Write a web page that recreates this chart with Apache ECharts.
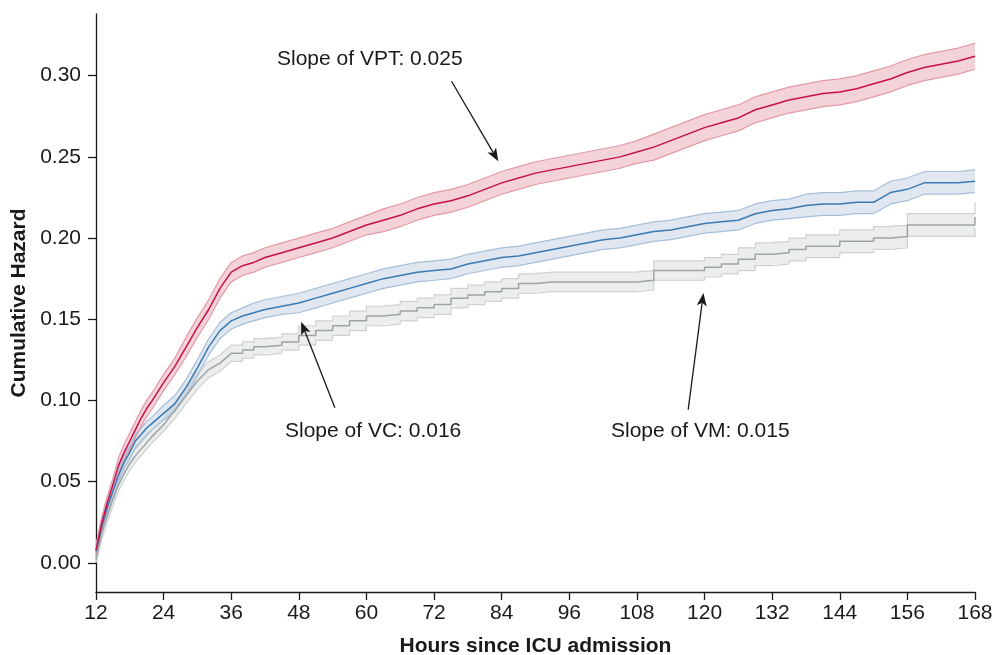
<!DOCTYPE html>
<html>
<head>
<meta charset="utf-8">
<script src="https://cdn.jsdelivr.net/npm/echarts@6/dist/echarts.min.js"></script>
<style>
html,body{margin:0;padding:0;background:#fff;}
#chart{width:996px;height:655px;}
</style>
</head>
<body>
<div id="chart"></div>
<script>
// Hours since ICU admission
var hours = [12,13,14,15,16,17,18,19,20,21,22,24,26,28,30,32,34,36,38,40,42,45,48,51,54,57,60,63,66,69,72,75,78,81,84,87,90,93,96,99,102,105,108,111,114,117,120,123,126,129,132,135,138,141,144,147,150,153,156,159,162,165,168];

// VPT
var vptMean = [.008,.024,.037,.048,.060,.068,.075,.082,.089,.095,.100,.111,.121,.133,.145,.156,.169,.179,.183,.185,.188,.191,.194,.197,.200,.204,.208,.211,.214,.218,.221,.223,.226,.230,.234,.237,.240,.242,.244,.246,.248,.250,.253,.256,.260,.264,.268,.271,.274,.279,.282,.285,.287,.289,.290,.292,.295,.298,.302,.305,.307,.309,.312];
var vptLow  = [.005,.020,.033,.044,.055,.063,.070,.077,.084,.090,.095,.106,.116,.127,.139,.150,.163,.173,.177,.179,.182,.185,.188,.191,.194,.198,.202,.204,.207,.211,.214,.216,.219,.223,.227,.230,.233,.235,.237,.239,.241,.243,.246,.248,.252,.256,.260,.263,.266,.271,.274,.277,.279,.281,.282,.284,.287,.290,.294,.297,.299,.301,.304];
var vptHigh = [.011,.028,.041,.052,.065,.073,.080,.087,.094,.100,.105,.116,.126,.139,.151,.162,.175,.185,.189,.191,.194,.197,.200,.203,.206,.210,.214,.218,.221,.225,.228,.230,.233,.237,.241,.244,.247,.249,.251,.253,.255,.257,.260,.264,.268,.272,.276,.279,.282,.287,.290,.293,.295,.297,.298,.300,.303,.306,.310,.313,.315,.317,.320];

// VC
var vcMean = [.007,.022,.034,.044,.054,.062,.068,.075,.079,.083,.086,.092,.098,.108,.120,.133,.143,.149,.152,.154,.156,.158,.160,.163,.166,.169,.172,.175,.177,.179,.180,.181,.184,.186,.188,.189,.191,.193,.195,.197,.199,.200,.202,.204,.205,.207,.209,.210,.211,.215,.217,.218,.220,.221,.221,.222,.222,.228,.230,.234,.234,.234,.235];
var vcLow  = [.004,.018,.030,.040,.050,.058,.064,.071,.075,.079,.082,.088,.093,.103,.115,.128,.138,.144,.147,.149,.151,.153,.154,.157,.160,.163,.166,.169,.171,.173,.174,.175,.178,.180,.182,.183,.185,.187,.189,.191,.193,.194,.196,.198,.199,.201,.203,.204,.205,.209,.211,.212,.213,.214,.214,.215,.215,.221,.223,.227,.227,.227,.228];
var vcHigh = [.010,.026,.038,.048,.058,.066,.072,.079,.083,.087,.090,.097,.103,.113,.125,.138,.148,.154,.157,.160,.162,.164,.166,.169,.172,.175,.178,.181,.183,.185,.186,.187,.190,.192,.194,.195,.197,.199,.201,.203,.205,.206,.208,.210,.211,.213,.215,.216,.217,.221,.223,.224,.227,.228,.228,.229,.229,.235,.237,.241,.241,.241,.242];

// VM
var vmMean = [.002,.018,.029,.039,.048,.055,.061,.066,.070,.074,.078,.085,.094,.103,.112,.119,.123,.129,.131,.133,.134,.136,.140,.143,.146,.149,.152,.153,.155,.157,.159,.163,.165,.167,.169,.172,.173,.173,.173,.173,.173,.173,.174,.180,.180,.180,.182,.184,.187,.190,.191,.193,.195,.195,.198,.198,.200,.201,.208,.208,.208,.208,.213];
var vmLow  = [.000,.014,.025,.035,.044,.051,.057,.062,.066,.070,.074,.081,.089,.098,.107,.114,.118,.124,.126,.128,.129,.131,.134,.137,.140,.143,.146,.147,.149,.151,.153,.157,.159,.161,.163,.166,.167,.167,.167,.167,.167,.167,.168,.174,.174,.174,.176,.178,.180,.183,.184,.186,.188,.188,.191,.191,.193,.194,.201,.201,.201,.201,.206];
var vmHigh = [.005,.022,.033,.043,.052,.059,.065,.070,.074,.078,.082,.089,.099,.108,.117,.124,.128,.134,.136,.138,.139,.141,.146,.149,.152,.155,.158,.159,.161,.163,.165,.169,.171,.173,.175,.178,.179,.179,.179,.179,.179,.179,.180,.186,.186,.186,.188,.190,.194,.197,.198,.200,.202,.202,.205,.205,.207,.208,.215,.215,.215,.215,.222];

var yTicks = [0,0.05,0.10,0.15,0.20,0.25,0.30];

var annotations = [
  {text:'Slope of VPT: 0.025', x:277, y:61},
  {text:'Slope of VC: 0.016', x:285, y:433},
  {text:'Slope of VM: 0.015', x:611, y:433}
];
// arrow [fromHour, fromHazard, toHour, toHazard]
var arrows = [
  [75.1,0.2966,83.4,0.2473],
  [54.4,0.0955,48.4,0.1485],
  [117.1,0.0943,119.8,0.1662]
];

function pairs(a, from, to){
  var out = [];
  hours.forEach(function(h,i){ if (i>=from && i<=to) out.push([h, a[i]]); });
  return out;
}

// Build the outline of a band; segments with index >= stepIdx follow a step function
function bandPoints(api, lo, hi, stepIdx){
  var top = [], bot = [];
  for (var i=0;i<hours.length;i++){
    var h = hours[i];
    if (i > stepIdx) {
      top.push(api.coord([h, hi[i-1]]));
      bot.push(api.coord([h, lo[i-1]]));
    }
    top.push(api.coord([h, hi[i]]));
    bot.push(api.coord([h, lo[i]]));
  }
  return top.concat(bot.reverse());
}

function group(name, mean, lo, hi, lineColor, edgeColor, fill, stepIdx){
  var last = hours.length-1;
  var out = [
    {name:name+' band', type:'custom', data:[[hours[0], lo[0]],[hours[last], hi[last]]], silent:true, z:1, clip:true,
     renderItem:function(params, api){
       if (params.dataIndex !== 0) return null;
       return {type:'polygon', shape:{points:bandPoints(api, lo, hi, stepIdx)}, style:{fill:fill}, silent:true};
     }}
  ];
  var parts = [[0, Math.min(stepIdx, last), false]];
  if (stepIdx < last) parts.push([stepIdx, last, 'end']);
  parts.forEach(function(p){
    out.push({name:name+' lower', type:'line', step:p[2], data:pairs(lo,p[0],p[1]), symbol:'none', silent:true,
      lineStyle:{color:edgeColor, width:1.2}, z:2});
    out.push({name:name+' upper', type:'line', step:p[2], data:pairs(hi,p[0],p[1]), symbol:'none', silent:true,
      lineStyle:{color:edgeColor, width:1.2}, z:2});
    out.push({name:name, type:'line', step:p[2], data:pairs(mean,p[0],p[1]), symbol:'none', silent:true,
      lineStyle:{color:lineColor, width:1.5}, z:3});
  });
  return out;
}

var series = [].concat(
  group('VM', vmMean, vmLow, vmHigh, '#9ea3a3', '#cdd1d0', 'rgba(170,178,174,0.22)', 17),
  group('VC', vcMean, vcLow, vcHigh, '#3a7ab2', '#a6bfd9', 'rgba(100,135,180,0.2)', 999),
  group('VPT', vptMean, vptLow, vptHigh, '#c5104b', '#e39aa7', 'rgba(210,80,100,0.25)', 999)
);

series.push({
  name:'arrows', type:'custom', data:arrows, silent:true, z:5, clip:false,
  encode:{x:[0,2], y:[1,3]},
  renderItem:function(params, api){
    var a = api.coord([api.value(0), api.value(1)]);
    var b = api.coord([api.value(2), api.value(3)]);
    var dx = b[0]-a[0], dy = b[1]-a[1];
    var len = Math.sqrt(dx*dx+dy*dy);
    var ux = dx/len, uy = dy/len;
    var hl = 13, hw = 5, notch = 3;
    var base = [b[0]-ux*hl, b[1]-uy*hl];
    var inner = [b[0]-ux*(hl-notch), b[1]-uy*(hl-notch)];
    var left = [base[0]-uy*hw, base[1]+ux*hw];
    var right = [base[0]+uy*hw, base[1]-ux*hw];
    return {type:'group', children:[
      {type:'line', shape:{x1:a[0], y1:a[1], x2:inner[0], y2:inner[1]}, style:{stroke:'#1a1a1a', lineWidth:1.3}},
      {type:'polygon', shape:{points:[b, left, inner, right]}, style:{fill:'#1a1a1a'}}
    ]};
  }
});

var chart = echarts.init(document.getElementById('chart'));
chart.setOption({
  animation:false,
  backgroundColor:'#fff',
  grid:{left:96, right:21, top:14, bottom:63, containLabel:false, outerBoundsMode:'none'},
  xAxis:{
    type:'value', min:12, max:168, interval:12,
    name:'Hours since ICU admission', nameLocation:'middle', nameGap:44,
    nameTextStyle:{fontFamily:'Liberation Sans', fontWeight:'bold', fontSize:21, color:'#1a1a1a'},
    axisLine:{show:true, onZero:false, lineStyle:{color:'#1a1a1a', width:1.3}},
    axisTick:{show:true, inside:false, length:8, lineStyle:{color:'#1a1a1a', width:1.3}},
    axisLabel:{fontFamily:'Liberation Sans', fontSize:21, color:'#1a1a1a', margin:11},
    splitLine:{show:false}
  },
  yAxis:{
    type:'value', min:-0.018, max:0.338,
    name:'Cumulative Hazard', nameLocation:'middle', nameGap:64,
    nameTextStyle:{fontFamily:'Liberation Sans', fontWeight:'bold', fontSize:21, color:'#1a1a1a'},
    axisLine:{show:true, onZero:false, lineStyle:{color:'#1a1a1a', width:1.3}},
    axisTick:{show:true, inside:false, length:8, customValues:yTicks, lineStyle:{color:'#1a1a1a', width:1.3}},
    axisLabel:{fontFamily:'Liberation Sans', fontSize:21, color:'#1a1a1a', margin:15, customValues:yTicks,
      formatter:function(v){ return v.toFixed(2); }},
    splitLine:{show:false}
  },
  graphic: annotations.map(function(a){
    return {type:'text', left:a.x, top:a.y-12, silent:true,
      style:{text:a.text, fontFamily:'Liberation Sans', fontSize:21, fill:'#1a1a1a'}};
  }),
  series:series
});
</script>
</body>
</html>
